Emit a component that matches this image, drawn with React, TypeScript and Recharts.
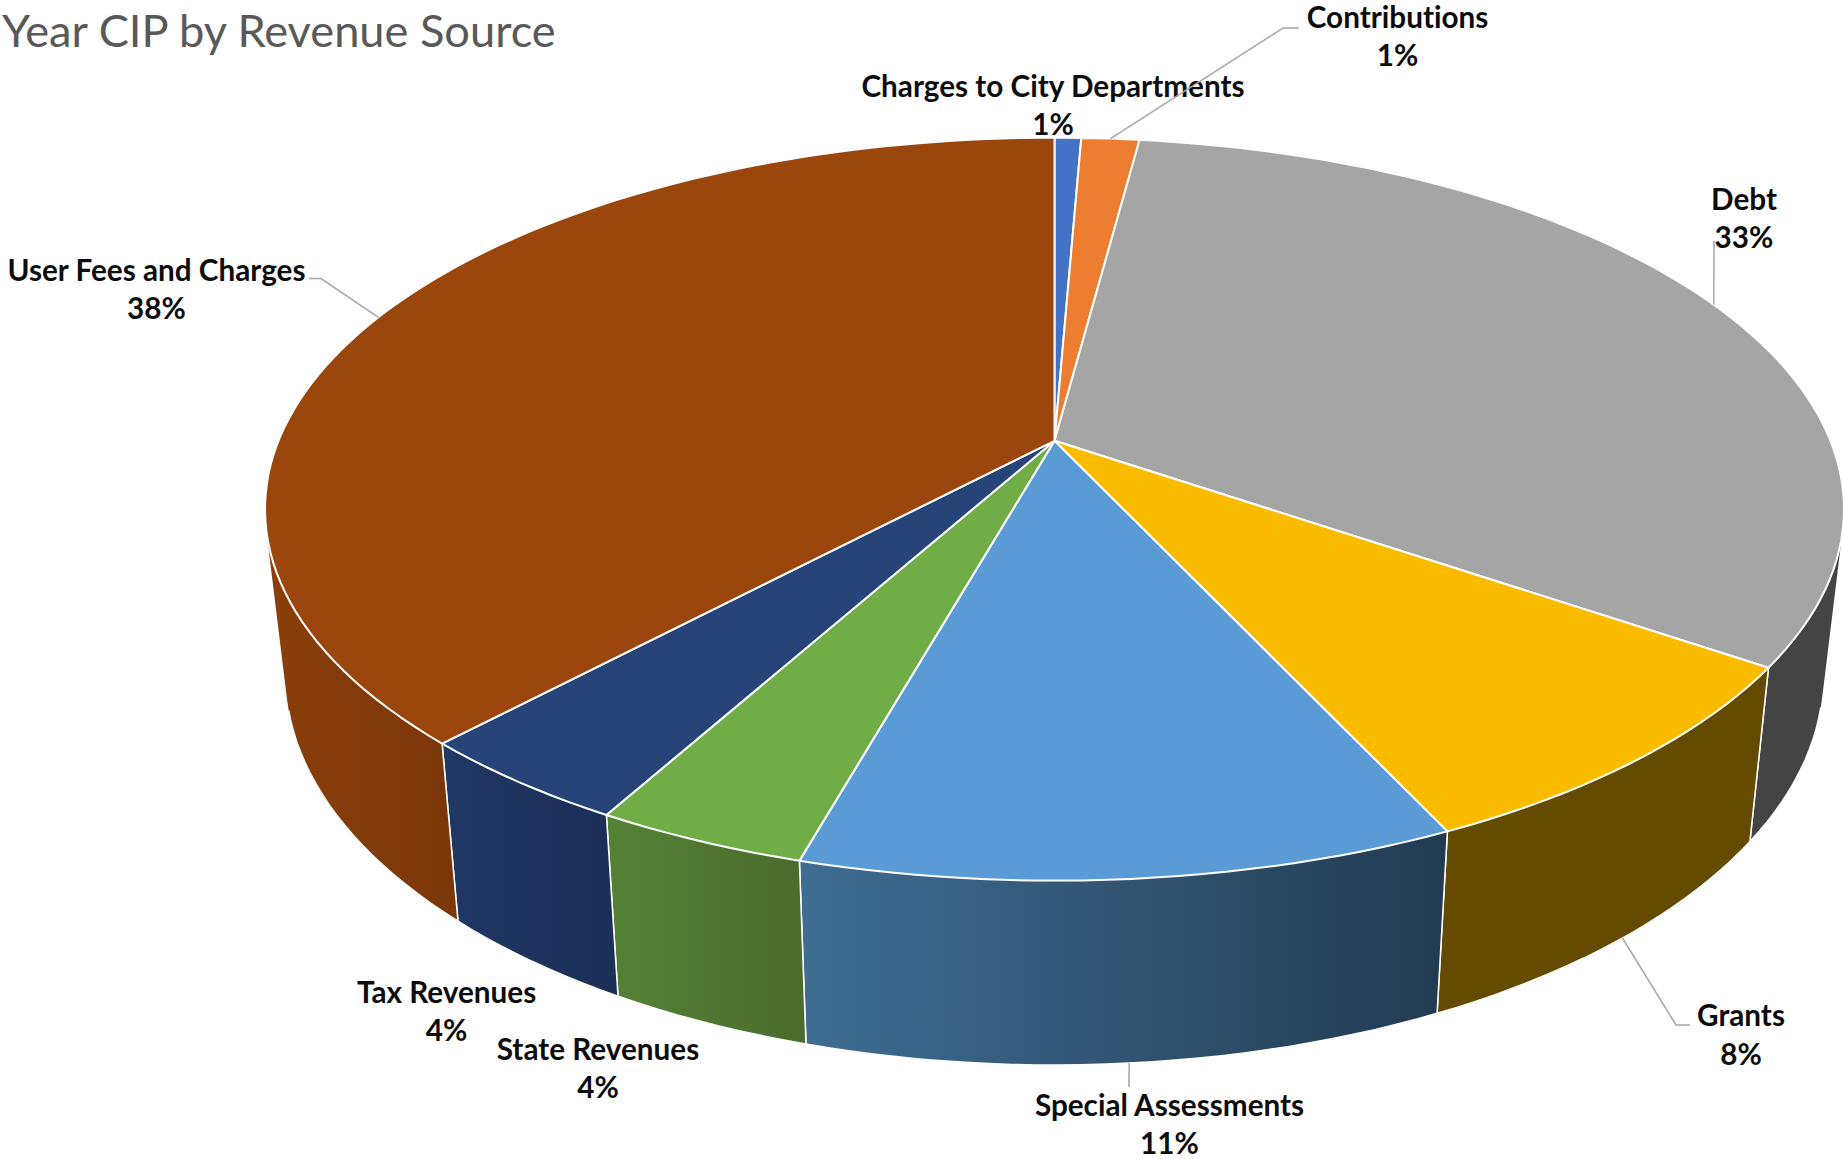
import { Pie, PieChart } from "recharts";

const sources = [
  "Charges to City Departments",
  "Contributions",
  "Debt",
  "Grants",
  "Special Assessments",
  "State Revenues",
  "Tax Revenues",
  "User Fees and Charges",
];
const shares = [0.65, 1.42, 32.51, 8.49, 11.29, 3.69, 3.92, 38.03];

const topColors = ["#4472C4", "#ED7D31", "#A5A5A5", "#FBBC00", "#5B9BD5", "#70AD47", "#264478", "#9A460C"];
const wallLight = ["#2F528F", "#A5561F", "#444444", "#654B00", "#3F6D92", "#548235", "#203864", "#8A3F0B"];
const wallDark = ["#2F528F", "#A5561F", "#444444", "#654B00", "#223B51", "#4A6C2D", "#1B2F57", "#7C3709"];

// label layout, page pixels: centre of the name line, line gap is fixed
const labelX = [1053, 1397.6, 1744, 1741, 1169.5, 598, 446.6, 156.5];
const labelY = [85, 16, 198, 1014.5, 1104, 1048, 991, 269];
// leader elbows; an empty list means the label has no leader
const leaders: number[][][] = [
  [],
  [[1283, 28], [1299, 28]],
  [[1714, 241]],
  [[1676, 1025], [1690, 1025]],
  [[1129, 1087]],
  [],
  [],
  [[321, 278.6], [309, 278.6]],
];
const leaderOnWall = [false, false, false, true, true, false, false, false];

const table = sources.map((name, i) => ({ name, value: shares[i], index: i }));
const total = shares.reduce((a, b) => a + b, 0);

const CX = 1054.5;
const CY = 440.8;
const RADIUS = 776;
const SQUASH = 0.4625; // vertical / horizontal radius of the tilted disc
const PERSPECTIVE = 0.184;
const WALL_SCALE_X = 0.974;
const WALL_SCALE_Y = 1.049;
const WALL_CY = 603.6;
const WALL_OUTLINE_FROM = 705; // the lower rim is only an outer edge below this y

const RAD = Math.PI / 180;

// tilted disc: angle in degrees to the rim on top of the pie
function rim(deg: number, cx: number, cy: number, r: number) {
  const u = Math.cos(deg * RAD);
  const v = Math.sin(deg * RAD);
  const w = 1 + PERSPECTIVE * v;
  return [cx + (r * u) / w, cy - (r * SQUASH * v) / w];
}

function lower(p: number[], cx: number, cy: number) {
  return [
    cx + (p[0] - cx) * WALL_SCALE_X,
    WALL_CY + (cy - CY) + (p[1] - cy) * WALL_SCALE_Y,
  ];
}

function arcPoints(a0: number, a1: number, cx: number, cy: number, r: number) {
  const steps = Math.max(2, Math.ceil(Math.abs(a1 - a0) / 1.5));
  const pts: number[][] = [];
  for (let i = 0; i <= steps; i++) pts.push(rim(a0 + ((a1 - a0) * i) / steps, cx, cy, r));
  return pts;
}

const toLine = (pts: number[][]) =>
  "M" + pts.map((p) => `${p[0].toFixed(1)},${p[1].toFixed(1)}`).join("L");
const toPath = (pts: number[][]) => toLine(pts) + "Z";

function signedArea(q: number[][]) {
  let a = 0;
  q.forEach((p, i) => {
    const n = q[(i + 1) % q.length];
    a += p[0] * n[1] - n[0] * p[1];
  });
  return a;
}

function TopSlice(props: any) {
  const { cx, cy, outerRadius, startAngle, endAngle, payload, index } = props;
  const i = payload?.index ?? index;
  const pts = [[cx, cy], ...arcPoints(startAngle, endAngle, cx, cy, outerRadius)];
  return (
    <path
      d={toPath(pts)}
      fill={topColors[i]}
      stroke="#fff"
      strokeWidth={2}
      strokeLinejoin="round"
    />
  );
}

function WallSlice(props: any) {
  const { cx, cy, outerRadius, startAngle, endAngle, payload, index } = props;
  const i = payload?.index ?? index;
  const top = arcPoints(startAngle, endAngle, cx, cy, outerRadius);
  const bottom = top.map((p) => lower(p, cx, cy));
  // sweep the rim down step by step so the silhouette at both sides is filled
  const quads = top.slice(1).map((p, k) => {
    const q = [top[k], p, bottom[k + 1], bottom[k]];
    return toPath(signedArea(q) < 0 ? q.reverse() : q);
  });
  // shading only runs across the part of the wall that faces the viewer
  const front = top.filter((p) => p[1] > cy - 20).map((p) => p[0]);
  const x1 = front.length ? Math.min(...front) : cx;
  const x2 = front.length ? Math.max(...front) : cx + 1;
  const id = `wall-${i}`;
  const last = top.length - 1;
  const seen = (p: number[]) => p[1] > WALL_OUTLINE_FROM;
  const outline = [
    ...(seen(bottom[0]) ? [top[0]] : []),
    ...bottom.filter(seen),
    ...(seen(bottom[last]) ? [top[last]] : []),
  ];
  return (
    <g>
      <defs>
        <linearGradient id={id} gradientUnits="userSpaceOnUse" x1={x1} x2={x2} y1={0} y2={0}>
          <stop offset="0%" stopColor={wallLight[i]} />
          <stop offset="100%" stopColor={wallDark[i]} />
        </linearGradient>
      </defs>
      <path d={quads.join("")} fill={`url(#${id})`} stroke="none" />
      {outline.length > 1 && (
        <path
          d={toLine(outline)}
          fill="none"
          stroke="#fff"
          strokeWidth={1.5}
          strokeLinejoin="round"
        />
      )}
    </g>
  );
}

function SliceLabel(props: any) {
  const { cx, cy, outerRadius, midAngle, index } = props;
  const elbows = leaders[index];
  const x = labelX[index];
  const y = labelY[index];
  let start = rim(midAngle, cx, cy, outerRadius);
  if (leaderOnWall[index]) start = lower(start, cx, cy);
  const pct = Math.round((shares[index] / total) * 100);
  const textProps = {
    x,
    textAnchor: "middle" as const,
    dominantBaseline: "central" as const,
    fontFamily: "Lato",
    fontWeight: 700,
    fontSize: 29.7,
    fill: "#0D0D0D",
    style: { fontVariantLigatures: "none" },
  };
  return (
    <g>
      {elbows.length > 0 && (
        <polyline
          points={[start, ...elbows].map((p) => p.join(",")).join(" ")}
          fill="none"
          stroke="#A6A6A6"
          strokeWidth={1.5}
        />
      )}
      <text {...textProps} y={y}>
        {sources[index]}
      </text>
      <text {...textProps} y={y + 38.8}>
        {pct}%
      </text>
    </g>
  );
}

export default function App() {
  return (
    <div style={{ position: "absolute", left: 0, top: 0, width: 1843, height: 1159, background: "#fff" }}>
      <div
        style={{
          position: "absolute",
          left: 2,
          top: 2,
          fontFamily: "Lato",
          fontSize: 45.2,
          lineHeight: "56px",
          color: "#595959",
          whiteSpace: "nowrap",
        }}
      >
        Year CIP by Revenue Source
      </div>
      <PieChart width={1843} height={1159} margin={{ top: 0, right: 0, bottom: 0, left: 0 }}>
        <Pie
          data={table}
          dataKey="value"
          nameKey="name"
          cx={CX}
          cy={CY}
          outerRadius={RADIUS}
          startAngle={90}
          endAngle={-270}
          paddingAngle={0}
          shape={WallSlice}
          isAnimationActive={false}
          legendType="none"
        />
        <Pie
          data={table}
          dataKey="value"
          nameKey="name"
          cx={CX}
          cy={CY}
          outerRadius={RADIUS}
          startAngle={90}
          endAngle={-270}
          paddingAngle={0}
          shape={TopSlice}
          label={SliceLabel}
          labelLine={false}
          isAnimationActive={false}
          legendType="none"
        />
      </PieChart>
    </div>
  );
}
